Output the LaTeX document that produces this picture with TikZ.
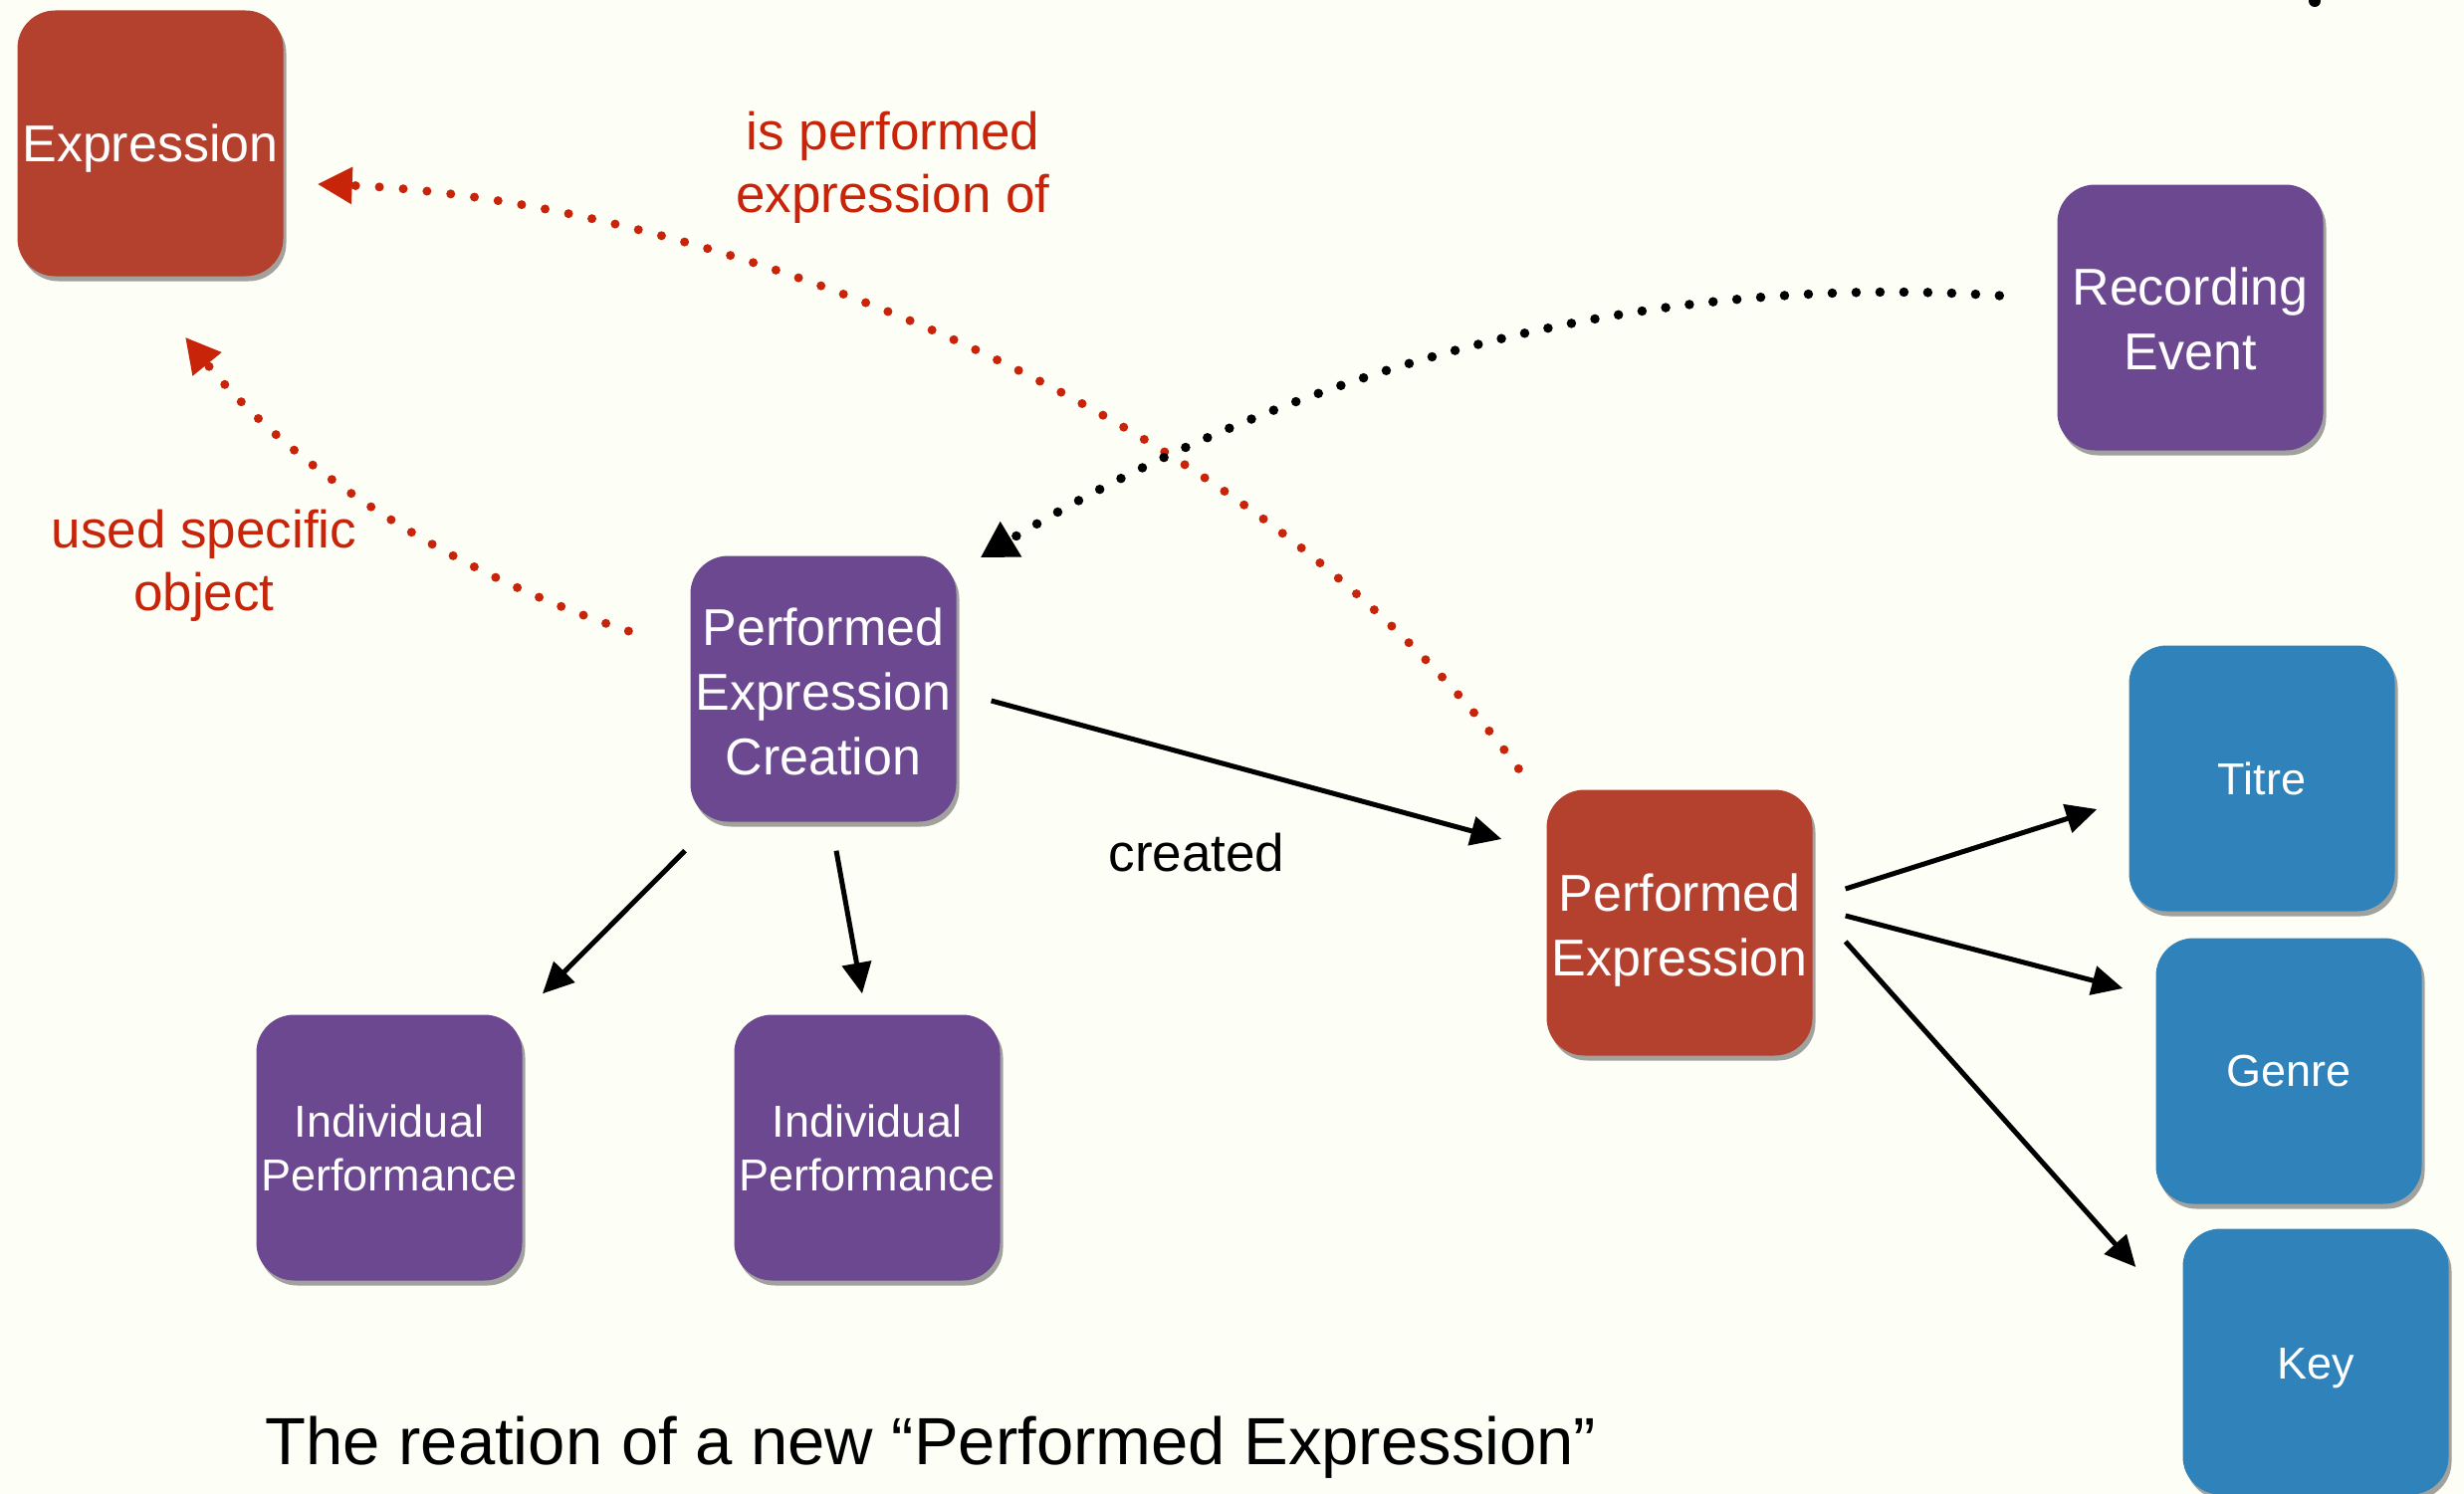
\documentclass[tikz,border=0pt]{standalone}
\usepackage{fontspec}
\setmainfont{Liberation Sans}
\usetikzlibrary{arrows.meta,calc,shadows}
\definecolor{bgc}{HTML}{FDFEF6}
\definecolor{redbox}{HTML}{B4402E}
\definecolor{purplebox}{HTML}{6C4890}
\definecolor{bluebox}{HTML}{2F82BA}
\definecolor{redline}{HTML}{C8240A}
\newcommand\lowtext[2]{\raisebox{-#1}[\height][\depth]{\begin{tabular}{@{}c@{}}#2\end{tabular}}}
\tikzset{
  box/.style={rounded corners=38pt, minimum width=267pt, minimum height=267pt,
    inner sep=0pt, align=center, text=white,
    drop shadow={shadow xshift=3pt, shadow yshift=-5pt, opacity=0.45, fill=black!80}},
  bigtxt/.style={font=\fontsize{52}{65}\selectfont},
  smalltxt/.style={font=\fontsize{45}{54}\selectfont},
  redbx/.style={box, fill=redbox, bigtxt},
  purplebx/.style={box, fill=purplebox},
  bluebx/.style={box, fill=bluebox, smalltxt},
  arr/.style={line width=5pt, -{Triangle[length=31pt, width=29pt]}},
  reddots/.style={redline, line width=9pt, line cap=round, dash pattern=on 0pt off 24pt,
    -{Triangle[length=35pt, width=35pt]}},
  blackdots/.style={black, line width=9.5pt, line cap=round, dash pattern=on 0pt off 24pt,
    -{Triangle[length=36pt, width=39pt]}},
  redlabel/.style={text=redline, align=center, font=\fontsize{53}{63}\selectfont},
}
\begin{document}
\begin{tikzpicture}[x=1pt,y=-1pt]
\path[use as bounding box, fill=bgc] (0,0) rectangle (2475,1501);

% nodes
\node[redbx] (expr) at (151,144) {\lowtext{5pt}{Expression}};
\node[purplebx, bigtxt] (rec) at (2200,319) {\lowtext{7pt}{Recording\\Event}};
\node[purplebx, bigtxt] (pec) at (827,692) {\lowtext{8pt}{Performed\\Expression\\Creation}};
\node[purplebx, smalltxt] (ip1) at (391,1153) {Individual\\Performance};
\node[purplebx, smalltxt] (ip2) at (871,1153) {Individual\\Performance};
\node[redbx] (pe) at (1687,927) {\lowtext{8pt}{Performed\\Expression}};
\node[bluebx] (titre) at (2272,782) {Titre};
\node[bluebx] (genre) at (2299,1076) {Genre};
\node[bluebx] (key) at (2326,1368) {\lowtext{7pt}{Key}};

% labels
\node[redlabel, anchor=base] (lblperf) at (897,150) {is performed};
\node[redlabel, anchor=base] (lblperf2) at (897,213) {expression of};
\node[redlabel, anchor=base] (lblused) at (205,550) {used specific};
\node[redlabel, anchor=base] (lblused2) at (205,613) {object};
\node[anchor=base, font=\fontsize{53}{63}\selectfont] (lblcreated) at (1202,875) {created};
\node[anchor=base, font=\fontsize{67}{80}\selectfont] (caption) at (935,1471)
  {The reation of a new “Performed Expression”};

% dotted connectors
\draw[reddots] ($(pe.north west)+(-28,-21)$) .. controls (1250,400) and (700,200) .. ($(expr.east)+(34,41)$);
\draw[reddots] ($(pec.west)+(-62,-58)$) .. controls (460,578) and (296,474) .. ($(expr.south)+(35,61)$);
\draw[blackdots] ($(rec.west)+(-58,-22)$) .. controls (1600,270) and (1250,400) .. ($(pec.north east)+(24,2)$);

% solid connectors
\draw[arr] ($(pec.east)+(35,12)$) -- ($(pe.west)+(-45,-84)$);
\draw[arr] ($(pec.south)+(-139,29)$) -- ($(ip1.north)+(154,-21)$);
\draw[arr] ($(pec.south)+(13,29)$) -- ($(ip2.north)+(-5,-21)$);
\draw[arr] ($(pe.east)+(33,-34)$) -- ($(titre.west)+(-32,31)$);
\draw[arr] ($(pe.east)+(33,-7)$) -- ($(genre.west)+(-33,-83)$);
\draw[arr] ($(pe.east)+(33,19)$) -- ($(key.west)+(-47,-95)$);

% clipped mark at top right
\fill (2325,1) circle (6);
\end{tikzpicture}
\end{document}
